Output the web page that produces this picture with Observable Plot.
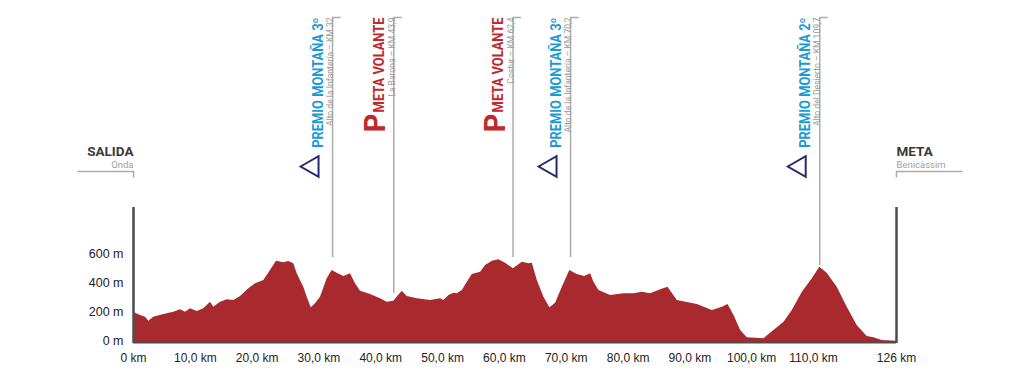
<!DOCTYPE html>
<html><head><meta charset="utf-8">
<script src="https://cdn.jsdelivr.net/npm/d3@7"></script>
<script src="https://cdn.jsdelivr.net/npm/@observablehq/plot@0.6"></script>
<style>html,body{margin:0;padding:0;background:#fff;} svg{display:block}</style>
</head><body><div id="chart"></div>
<script>
// ---- data ----
const profileKm = [0, 1.13, 1.94, 2.48, 3.28, 4.90, 6.52, 7.60, 8.41, 9.22, 10.30, 11.37, 12.46, 12.99, 14.07, 15.16, 16.23, 17.31, 18.65, 19.74, 21.08, 22.16, 23.13, 24.31, 25.12, 25.93, 26.48, 27.55, 28.10, 28.75, 29.44, 30.25, 31.33, 32.14, 32.95, 34.02, 35.10, 35.91, 36.72, 38.34, 39.96, 41.04, 42.11, 43.47, 44.28, 45.90, 48.06, 49.68, 50.21, 51.02, 51.83, 52.38, 53.19, 54.00, 54.81, 56.15, 56.96, 58.04, 59.11, 60.19, 61.44, 62.90, 63.97, 64.51, 65.32, 66.39, 67.36, 68.28, 69.37, 70.58, 71.78, 72.98, 73.95, 74.48, 75.29, 77.18, 79.34, 80.96, 82.29, 83.65, 85.27, 86.46, 87.97, 91.21, 93.64, 95.26, 96.17, 97.14, 98.22, 99.29, 101.97, 103.60, 105.23, 106.57, 108.20, 109.81, 111.21, 112.64, 114.57, 116.50, 118.42, 120.35, 121.62, 123.24, 126];
const profileElev = [209, 186, 174, 147, 174, 193, 209, 226, 209, 232, 214, 232, 278, 243, 278, 294, 290, 317, 370, 405, 428, 497, 561, 550, 559, 543, 474, 381, 312, 239, 267, 312, 439, 497, 478, 455, 474, 405, 354, 331, 301, 278, 285, 354, 317, 301, 290, 301, 290, 324, 340, 336, 359, 416, 469, 485, 531, 561, 570, 547, 508, 554, 543, 547, 428, 312, 239, 271, 381, 497, 469, 455, 474, 416, 359, 324, 336, 336, 347, 336, 363, 381, 290, 262, 221, 243, 262, 186, 83, 32, 26, 83, 140, 221, 347, 439, 519, 478, 381, 243, 117, 41, 32, 14, 9];

const markerKm = [32.2, 42.1, 61.4, 70.7, 111.2];
const markerLineEnd = [586, 338, 586, 586, 531];
const markerKind = ["montana", "volante", "volante", "montana", "montana"];
const markerTitle = ["PREMIO MONTAÑA 3º", "META VOLANTE", "META VOLANTE", "PREMIO MONTAÑA 3º", "PREMIO MONTAÑA 2º"];
const markerPlace = ["Alto de la Infantería – KM 32", "La Barona – KM 43,9", "Costur – KM 62,4", "Alto de la Infantería – KM 70,2", "Alto del Desierto – KM 109,7"];

const endKm = [0, 126];
const endTitle = ["SALIDA", "META"];
const endPlace = ["Onda", "Benicàssim"];

const xTicks = [0, 10, 20, 30, 40, 50, 60, 70, 80, 90, 100, 110, 126];
const xTickLabels = ["0 km", "10,0 km", "20,0 km", "30,0 km", "40,0 km", "50,0 km", "60,0 km", "70,0 km", "80,0 km", "90,0 km", "100,0 km", "110,0 km", "126 km"];
const yTicks = [0, 200, 400, 600];
const yTickLabels = ["0 m", "200 m", "400 m", "600 m"];

// ---- layout / scales ----
const W = 1024, H = 372, MT = 17, MB = 30, ML = 133, MR = 128;
const xOpts = {type: "linear", domain: [0, 110, 126], range: [ML, 813, W - MR]};
const yOpts = {type: "linear", domain: [0, 600], range: [H - MB, 255]};
const yScale = Plot.scale({y: yOpts});
const frameTop = yScale.invert(MT); // elevation at the top edge of the frame

// ---- tables ----
const profile = profileKm.map((km, i) => ({km, elev: profileElev[i]}));
const markers = markerKm.map((km, i) => ({km, lineEnd: markerLineEnd[i], top: frameTop, kind: markerKind[i], title: markerTitle[i], place: markerPlace[i]}));
const montana = markers.filter(d => d.kind === "montana");
const volante = markers.filter(d => d.kind === "volante");
const start = [{km: endKm[0], title: endTitle[0], place: endPlace[0]}];
const finish = [{km: endKm[1], title: endTitle[1], place: endPlace[1]}];

const RED = "#a82a2f", BLUE = "#1b9ad6", NAVY = "#27296f", VRED = "#c1272d", GREY = "#ababab", DARK = "#4d4d4d";
const COND = "Roboto, sans-serif";

const topTick = {draw(ctx) { ctx.moveTo(0, 0); ctx.lineTo(8, 0); }};
const leftBracket = {draw(ctx) { ctx.moveTo(-56, 0); ctx.lineTo(0, 0); ctx.lineTo(0, 6); }};
const rightBracket = {draw(ctx) { ctx.moveTo(66, 0); ctx.lineTo(0, 0); ctx.lineTo(0, 6); }};

const chart = Plot.plot({
  width: W, height: H,
  marginTop: MT, marginBottom: MB, marginLeft: ML, marginRight: MR,
  x: xOpts,
  y: yOpts,
  style: {fontFamily: "'Liberation Sans', Arial, sans-serif", fontSize: "12px", color: "#222", background: "#fff"},
  marks: [
    Plot.areaY(profile, {x: "km", y: "elev", fill: RED, curve: "linear"}),
    Plot.ruleY([0], {stroke: DARK, strokeWidth: 2}),
    Plot.ruleX(endKm, {stroke: DARK, strokeWidth: 2.5, insetTop: 190, insetBottom: -1}),
    // markers
    Plot.ruleX(markers, {x: "km", y1: "lineEnd", y2: "top", stroke: GREY, strokeWidth: 1.5}),
    Plot.dot(markers, {x: "km", frameAnchor: "top", symbol: topTick, r: 4, stroke: GREY, strokeWidth: 1.5, fill: "none"}),
    Plot.text(markers, {x: "km", text: "title", frameAnchor: "top", rotate: -90, textAnchor: "end", dx: -20, ariaDescription: "main-label",
      fill: d => d.kind === "montana" ? BLUE : VRED, fontFamily: COND, fontWeight: 700, fontSize: 14}),
    Plot.text(markers, {x: "km", text: "place", frameAnchor: "top", rotate: -90, textAnchor: "end", dx: -6, ariaDescription: "sub-label",
      fill: "#9a9a9a", fontFamily: COND, fontSize: 9.5}),
    Plot.dot(montana, {x: "km", frameAnchor: "top", symbol: "triangle", r: 7.7, rotate: -90, dx: -20, dy: 149,
      stroke: NAVY, strokeWidth: 2, fill: "none"}),
    Plot.text(volante, {x: "km", text: () => "P", frameAnchor: "top", rotate: -90, textAnchor: "end", dx: -29, dy: 96,
      fill: VRED, fontFamily: COND, fontWeight: 700, fontSize: 29}),
    // start / finish
    Plot.text(start, {x: "km", text: "title", frameAnchor: "top", textAnchor: "end", lineAnchor: "bottom", dy: 138,
      fill: "#3a3a3a", fontFamily: COND, fontWeight: 700, fontSize: 13.5}),
    Plot.text(start, {x: "km", text: "place", frameAnchor: "top", textAnchor: "end", lineAnchor: "bottom", dy: 150,
      fill: "#a0a0a0", fontFamily: COND, fontSize: 9.5}),
    Plot.text(finish, {x: "km", text: "title", frameAnchor: "top", textAnchor: "start", lineAnchor: "bottom", dy: 138,
      fill: "#3a3a3a", fontFamily: COND, fontWeight: 700, fontSize: 13.5}),
    Plot.text(finish, {x: "km", text: "place", frameAnchor: "top", textAnchor: "start", lineAnchor: "bottom", dy: 150,
      fill: "#a0a0a0", fontFamily: COND, fontSize: 9.5}),
    Plot.dot(start, {x: "km", frameAnchor: "top", symbol: leftBracket, r: 4, dy: 154, stroke: GREY, strokeWidth: 1.5, fill: "none"}),
    Plot.dot(finish, {x: "km", frameAnchor: "top", symbol: rightBracket, r: 4, dy: 154, stroke: GREY, strokeWidth: 1.5, fill: "none"}),
    // axes
    Plot.axisX(xTicks, {tickFormat: d => xTickLabels[xTicks.indexOf(d)], tickSize: 0, tickPadding: 11, label: null, fontSize: 12, fill: "#222"}),
    Plot.axisY(yTicks, {tickFormat: d => yTickLabels[yTicks.indexOf(d)], tickSize: 0, tickPadding: 10, label: null, fontSize: 12.5, fill: "#222", dy: -2})
  ]
});
document.getElementById("chart").appendChild(chart);

// condensed type, as in the original lettering
function condense(label, k) {
  chart.querySelectorAll(`g[aria-description="${label}"] text`).forEach(t => {
    const w = t.getComputedTextLength();
    t.setAttribute("textLength", (w * k).toFixed(1));
    t.setAttribute("lengthAdjust", "spacingAndGlyphs");
  });
}
condense("main-label", 0.92);
condense("sub-label", 0.9);
</script>
</body></html>
